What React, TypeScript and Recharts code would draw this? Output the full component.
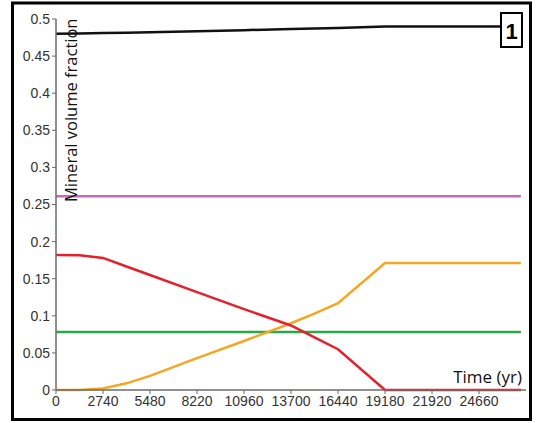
import { Line, LineChart, XAxis, YAxis } from "recharts";

const W = 536;
const H = 423;

const times = [0, 1370, 2740, 4110, 5480, 8220, 10960, 13700, 15070, 16440, 19180, 27100];
const black = [0.48, 0.4805, 0.481, 0.4815, 0.482, 0.4835, 0.485, 0.4865, 0.4872, 0.488, 0.49, 0.49];
const pink = [0.261, 0.261, 0.261, 0.261, 0.261, 0.261, 0.261, 0.261, 0.261, 0.261, 0.261, 0.261];
const green = [0.078, 0.078, 0.078, 0.078, 0.078, 0.078, 0.078, 0.078, 0.078, 0.078, 0.078, 0.078];
const red = [0.182, 0.1815, 0.178, 0.1665, 0.155, 0.132, 0.109, 0.087, 0.071, 0.055, 0, 0];
const orange = [0, 0, 0.002, 0.009, 0.019, 0.043, 0.066, 0.09, 0.103, 0.117, 0.171, 0.171];

const xTicks = [0, 2740, 5480, 8220, 10960, 13700, 16440, 19180, 21920, 24660];
const yTicks = [0, 0.05, 0.1, 0.15, 0.2, 0.25, 0.3, 0.35, 0.4, 0.45, 0.5];

const data = times.map((t, i) => ({
  t,
  black: black[i],
  pink: pink[i],
  green: green[i],
  red: red[i],
  orange: orange[i],
}));

const AXIS = "#6b6b6b";
const tick = { fontSize: 14, fill: "#333", fontFamily: "Liberation Sans, Arial, sans-serif" };

export default function App() {
  return (
    <div style={{ position: "absolute", left: 0, top: 0, width: W, height: H, background: "#fff" }}>
      <LineChart width={W} height={H} data={data} margin={{ top: 19, right: 10, left: 0, bottom: 0 }}>
        <XAxis
          dataKey="t"
          type="number"
          domain={[0, 27400]}
          ticks={xTicks}
          interval={0}
          height={33}
          tick={tick}
          tickSize={4}
          stroke={AXIS}
          tickLine={{ stroke: AXIS }}
          axisLine={{ stroke: AXIS, strokeWidth: 1.5 }}
        />
        <YAxis
          type="number"
          domain={[0, 0.5]}
          ticks={yTicks}
          interval={0}
          width={56}
          tick={tick}
          tickSize={4}
          stroke={AXIS}
          tickLine={{ stroke: AXIS }}
          axisLine={{ stroke: AXIS, strokeWidth: 1.5 }}
        />
        <Line dataKey="black" stroke="#111" strokeWidth={2.5} dot={false} isAnimationActive={false} />
        <Line dataKey="pink" stroke="#c868b8" strokeWidth={2.5} dot={false} isAnimationActive={false} />
        <Line dataKey="green" stroke="#2aa84a" strokeWidth={2.5} dot={false} isAnimationActive={false} />
        <Line dataKey="orange" stroke="#f6a623" strokeWidth={2.5} dot={false} isAnimationActive={false} />
        <Line dataKey="red" stroke="#e5202a" strokeWidth={2.5} dot={false} isAnimationActive={false} />
      </LineChart>
      <svg width={W} height={H} style={{ position: "absolute", left: 0, top: 0, pointerEvents: "none" }}>
        <rect x={12.5} y={3} width={518} height={416.5} fill="none" stroke="#000" strokeWidth={3} />
        <text
          transform="translate(77,202) rotate(-90)"
          fontSize={16.5}
          fontFamily="Open Sans, sans-serif"
          fill="#111"
        >
          Mineral volume fraction
        </text>
        <text x={522} y={383} textAnchor="end" fontSize={17} fontFamily="Open Sans, sans-serif" fill="#111">
          Time (yr)
        </text>
        <rect x={501} y={13} width={21} height={34} fill="#fff" stroke="#000" strokeWidth={2} />
        <text x={511.5} y={39} textAnchor="middle" fontSize={22} fontWeight="bold" fontFamily="Liberation Sans, Arial, sans-serif" fill="#000">
          1
        </text>
      </svg>
    </div>
  );
}
